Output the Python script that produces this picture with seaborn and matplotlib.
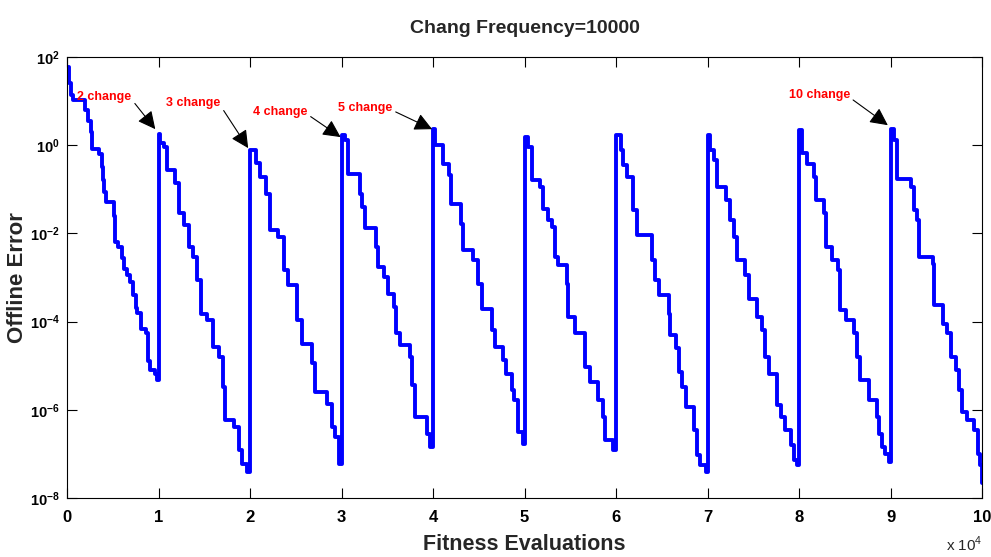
import numpy as np
import pandas as pd
import matplotlib
matplotlib.use("Agg")
import matplotlib.pyplot as plt
import seaborn as sns

# fitness evaluations (x 10^4) where each level starts, and log10 offline error
x1 = [0.00, 0.02, 0.04, 0.07, 0.20, 0.23, 0.26, 0.27, 0.35, 0.38, 0.39, 0.40, 0.43, 0.51, 0.52, 0.53, 0.56,
      0.60, 0.62, 0.66, 0.69, 0.72, 0.75, 0.77, 0.81, 0.86, 0.88, 0.89, 0.91, 0.96, 0.98]
e1 = [1.77, 1.40, 1.13, 1.02, 0.80, 0.55, 0.30, -0.08, -0.20, -0.50, -0.80, -1.06, -1.30, -1.60, -1.90, -2.20, -2.31,
      -2.55, -2.80, -2.95, -3.10, -3.40, -3.70, -3.80, -4.16, -4.27, -4.60, -4.90, -5.10, -5.20, -5.33]
x2 = [1.00, 1.02, 1.06, 1.09, 1.18, 1.22, 1.28, 1.33, 1.38, 1.42, 1.46, 1.53, 1.60, 1.66, 1.71, 1.73, 1.82, 1.88, 1.91, 1.97]
e2 = [0.26, 0.05, -0.04, -0.57, -0.87, -1.55, -1.82, -2.31, -2.54, -3.06, -3.82, -3.97, -4.58, -4.80, -5.48, -6.24,
      -6.39, -6.92, -7.22, -7.41]
x3 = [2.00, 2.06, 2.11, 2.17, 2.22, 2.31, 2.37, 2.42, 2.51, 2.57, 2.68, 2.71, 2.84, 2.90, 2.93, 2.97]
e3 = [-0.12, -0.40, -0.72, -1.10, -1.93, -2.08, -2.84, -3.18, -3.97, -4.50, -4.95, -5.60, -5.86, -6.39, -6.62, -7.22]
x4 = [3.00, 3.04, 3.07, 3.20, 3.22, 3.26, 3.38, 3.40, 3.46, 3.51, 3.57, 3.60, 3.64, 3.75, 3.77, 3.80, 3.93, 3.97]
e4 = [0.22, 0.11, -0.65, -1.10, -1.40, -1.89, -2.31, -2.76, -2.99, -3.37, -3.67, -4.27, -4.54, -4.80, -5.45, -6.16,
      -6.54, -6.84]
x5 = [4.00, 4.02, 4.11, 4.18, 4.20, 4.31, 4.33, 4.44, 4.49, 4.53, 4.64, 4.68, 4.77, 4.80, 4.86, 4.89, 4.93, 4.98]
e5 = [0.37, 0.00, -0.42, -0.68, -1.33, -1.78, -2.39, -2.61, -3.14, -3.71, -4.20, -4.58, -4.88, -5.18, -5.56, -5.79,
      -6.50, -6.77]
x6 = [5.00, 5.04, 5.08, 5.17, 5.20, 5.26, 5.30, 5.33, 5.37, 5.46, 5.48, 5.55, 5.66, 5.71, 5.80, 5.86, 5.88, 5.97]
e6 = [0.19, -0.04, -0.80, -0.95, -1.44, -1.70, -1.85, -2.54, -2.72, -3.14, -3.90, -4.27, -5.03, -5.37, -5.79, -6.16,
      -6.69, -6.92]
x7 = [6.00, 6.05, 6.08, 6.12, 6.19, 6.23, 6.39, 6.43, 6.47, 6.58, 6.59, 6.65, 6.69, 6.72, 6.76, 6.85, 6.89, 6.92, 6.98]
e7 = [0.22, -0.12, -0.46, -0.72, -1.48, -2.05, -2.61, -3.06, -3.40, -3.82, -4.31, -4.61, -5.14, -5.48, -5.94, -6.47,
      -7.03, -7.26, -7.41]
x8 = [7.00, 7.03, 7.07, 7.10, 7.20, 7.25, 7.29, 7.32, 7.41, 7.45, 7.54, 7.60, 7.63, 7.67, 7.76, 7.80, 7.85, 7.91, 7.94, 7.98]
e8 = [0.22, -0.12, -0.34, -0.95, -1.25, -1.70, -2.08, -2.61, -2.95, -3.48, -3.90, -4.20, -4.80, -5.18, -5.90, -6.16,
      -6.47, -6.81, -7.15, -7.26]
x9 = [8.00, 8.03, 8.09, 8.16, 8.18, 8.27, 8.29, 8.36, 8.43, 8.45, 8.51, 8.60, 8.63, 8.67, 8.76, 8.85, 8.87, 8.91, 8.94, 8.98]
e9 = [0.34, -0.19, -0.42, -0.72, -1.25, -1.55, -2.31, -2.61, -2.84, -3.74, -3.97, -4.27, -4.80, -5.33, -5.79, -6.16,
      -6.54, -6.84, -7.00, -7.18]
x10 = [9.00, 9.04, 9.07, 9.22, 9.26, 9.29, 9.31, 9.46, 9.47, 9.57, 9.62, 9.66, 9.71, 9.75, 9.78, 9.84, 9.91, 9.95, 9.98, 10.0]
e10 = [0.37, 0.11, -0.76, -0.95, -1.48, -1.70, -2.54, -2.69, -3.63, -4.05, -4.27, -4.80, -5.10, -5.56, -6.05, -6.24,
       -6.47, -7.00, -7.26, -7.67]

change_labels = ["2 change", "3 change", "4 change", "5 change", "10 change"]
change_x = [0.965, 1.98, 2.99, 3.99, 8.97]
change_log = [0.36, -0.07, 0.18, 0.36, 0.45]

xticks = list(range(0, 11))
yexp = [2, 0, -2, -4, -6, -8]

sns.set_style("ticks")
plt.rcParams["font.family"] = ["Liberation Sans", "DejaVu Sans"]
plt.rcParams["mathtext.fontset"] = "custom"
plt.rcParams["mathtext.rm"] = "Liberation Sans"
plt.rcParams["mathtext.bf"] = "Liberation Sans:bold"

xs = x1 + x2 + x3 + x4 + x5 + x6 + x7 + x8 + x9 + x10
es = e1 + e2 + e3 + e4 + e5 + e6 + e7 + e8 + e9 + e10
df = pd.DataFrame({"evals": xs, "err": [10.0 ** v for v in es]})

fig = plt.figure(figsize=(9.91, 5.57), dpi=100)
ax = fig.add_axes([0.0676, 0.106, 0.9234, 0.792])

sns.lineplot(data=df, x="evals", y="err", ax=ax, color="#0000ff", linewidth=2.8,
             sort=False, estimator=None, drawstyle="steps-post")
ax.set_yscale("log")
ax.set_xlim(0, 10)
ax.set_ylim(1e-8, 1e2)

ax.set_xticks(xticks)
ax.set_xticklabels([str(t) for t in xticks], fontsize=12, fontweight="bold")
ax.set_yticks([10.0 ** e for e in yexp])
ax.set_yticklabels([r"$\mathbf{10^{%d}}$" % e for e in yexp], fontsize=10.5)
ax.yaxis.set_minor_locator(matplotlib.ticker.NullLocator())
ax.tick_params(axis="both", direction="in", length=7, width=0.8, top=True, right=True, colors="black")
ax.tick_params(axis="x", pad=9)
ax.tick_params(axis="y", pad=5)
for s in ax.spines.values():
    s.set_visible(True)
    s.set_linewidth(0.8)
    s.set_color("black")

ax.set_xlabel("Fitness Evaluations", fontsize=15.5, fontweight="bold", labelpad=6)
ax.set_ylabel("Offline Error", fontsize=16, fontweight="bold")
ax.yaxis.set_label_coords(-0.043, 0.5)
ax.set_title("Chang Frequency=10000", fontsize=14, fontweight="bold", pad=17)
fig.text(0.973, 0.022, r"x 10$^{4}$", ha="center", va="center", fontsize=11)

label_pos = [(0.41, 1.09), (1.38, 0.95), (2.33, 0.75), (3.26, 0.84), (8.22, 1.13)]
for lab, cx, cl, (tx, tl) in zip(change_labels, change_x, change_log, label_pos):
    ax.annotate(lab, xy=(cx, 10.0 ** cl), xytext=(tx, 10.0 ** tl),
                ha="center", va="center", color="red", fontsize=9, fontweight="bold",
                arrowprops=dict(arrowstyle="-|>,head_length=0.6,head_width=0.3", color="black",
                                lw=0.8, mutation_scale=18, relpos=(1.0, 0.3), shrinkA=0, shrinkB=0))

fig.savefig("out.png", dpi=100)
